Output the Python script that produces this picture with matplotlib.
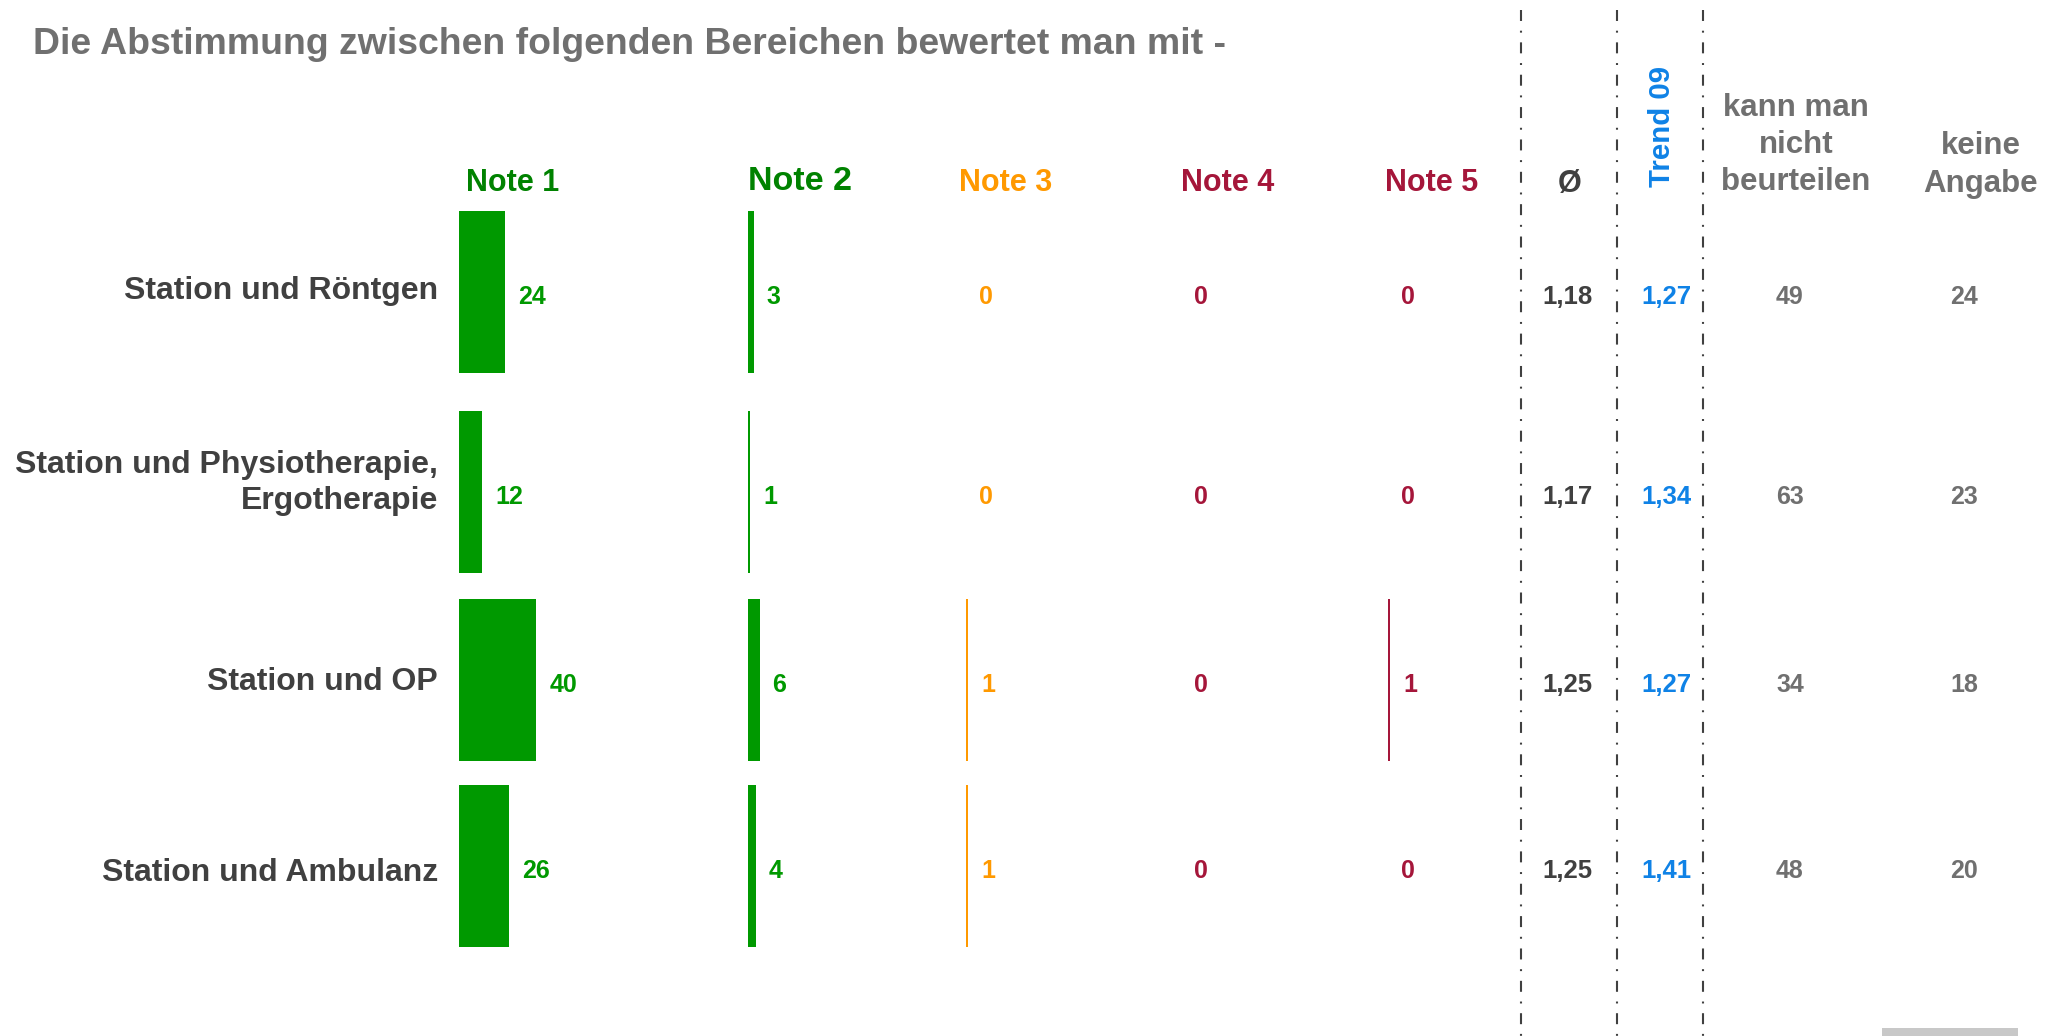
import matplotlib
matplotlib.use("Agg")
import matplotlib.pyplot as plt
from matplotlib.patches import Rectangle
import numpy as np

# ---------------- data ----------------
title = "Die Abstimmung zwischen folgenden Bereichen bewertet man mit -"
categories = ["Station und Röntgen",
              "Station und Physiotherapie,\nErgotherapie",
              "Station und OP",
              "Station und Ambulanz"]
note_labels = ["Note 1", "Note 2", "Note 3", "Note 4", "Note 5"]
note1 = [24, 12, 40, 26]
note2 = [3, 1, 6, 4]
note3 = [0, 0, 1, 1]
note4 = [0, 0, 0, 0]
note5 = [0, 0, 1, 0]
mean_values = ["1,18", "1,17", "1,25", "1,25"]
trend09 = ["1,27", "1,34", "1,27", "1,41"]
kann_nicht = [49, 63, 34, 48]
keine_angabe = [24, 23, 18, 20]

# ---------------- style / layout ----------------
plt.rcParams["font.family"] = ["Liberation Sans", "DejaVu Sans"]
plt.rcParams["font.weight"] = "bold"
plt.rcParams["lines.scale_dashes"] = False

GREEN = "#009900"
GREEN_H = "#008200"
ORANGE = "#ff9900"
RED = "#a5163a"
BLUE = "#0f82e6"
DARK = "#404040"
GRAY = "#707070"

W, H = 2057, 1036
fig = plt.figure(figsize=(W / 100, H / 100), dpi=100)
ax = fig.add_axes([0, 0, 1, 1])
ax.set_xlim(0, W)
ax.set_ylim(H, 0)
ax.axis("off")

row_y = np.array([292, 492, 680, 866])
bar_h = 162
px_per_unit = 1.935
col_x = [459, 748, 966, 1181, 1388]
col_colors = [GREEN, GREEN, ORANGE, RED, RED]
head_colors = [GREEN_H, GREEN_H, ORANGE, RED, RED]
head_x = [466, 748, 959, 1181, 1385]
head_y = [183, 181, 183, 183, 183]
head_size = [22, 24.5, 22, 22, 22]
label_dy = [-1, -9, 2, 7]

# title
ax.text(33, 45, title, ha="left", va="center", fontsize=26.9,
        color=GRAY, fontweight="bold")

# row labels
for y, cat, dy in zip(row_y, categories, label_dy):
    ax.text(438, y + dy, cat, ha="right", va="center", fontsize=23,
            color=DARK, fontweight="bold", linespacing=1.22)

# note columns
notes = [note1, note2, note3, note4, note5]
for j, vals in enumerate(notes):
    vals = np.array(vals, dtype=float)
    ax.barh(row_y, vals * px_per_unit, left=col_x[j], height=bar_h,
            color=col_colors[j], linewidth=0, align="center")
    for y, v in zip(row_y, vals):
        ax.text(col_x[j] + v * px_per_unit + 13, y + 5, f"{int(v)}",
                ha="left", va="center", fontsize=18, color=col_colors[j],
                fontweight="bold")
    ax.text(head_x[j], head_y[j], note_labels[j], ha="left", va="center",
            fontsize=head_size[j], color=head_colors[j], fontweight="bold")

# right-hand columns
ax.text(1570, 184, "Ø", ha="center", va="center", fontsize=22,
        color=DARK, fontweight="bold")
ax.text(1662, 187, "Trend 09", ha="center", va="bottom", rotation=90,
        fontsize=21.2, color=BLUE, fontweight="bold")
ax.text(1796, 145, "kann man\nnicht\nbeurteilen", ha="center", va="center",
        fontsize=22.5, color=GRAY, fontweight="bold", linespacing=1.32)
ax.text(1981, 165, "keine\nAngabe", ha="center", va="center",
        fontsize=22.5, color=GRAY, fontweight="bold", linespacing=1.32)

for y, m, t, k, n in zip(row_y, mean_values, trend09, kann_nicht, keine_angabe):
    ax.text(1567, y + 5, m, ha="center", va="center", fontsize=18.5,
            color=DARK, fontweight="bold")
    ax.text(1666, y + 5, t, ha="center", va="center", fontsize=18.5,
            color=BLUE, fontweight="bold")
    ax.text(1790, y + 5, str(k), ha="center", va="center", fontsize=18,
            color=GRAY, fontweight="bold")
    ax.text(1964, y + 5, str(n), ha="center", va="center", fontsize=18,
            color=GRAY, fontweight="bold")

# dash-dot separators
for x in [1521, 1617, 1703]:
    ax.plot([x, x], [10, H], color=DARK, linewidth=1.5,
            linestyle=(0, (7.9, 7.0, 1.4, 7.0)), dash_capstyle="butt")

# scrollbar remnant at the bottom right
ax.add_patch(Rectangle((1882, 1028), 136, 8, color="#c8c8c8", linewidth=0))

fig.savefig("out.png", dpi=100)
